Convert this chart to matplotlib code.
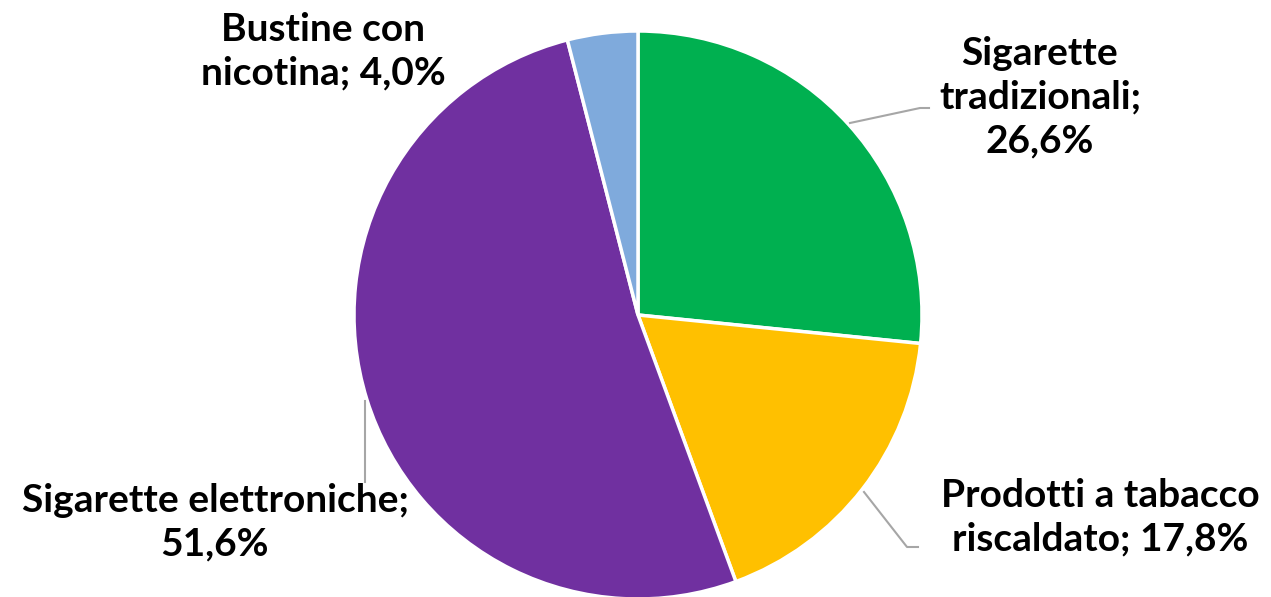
import matplotlib
matplotlib.use('Agg')
import matplotlib.pyplot as plt

# dati del grafico
categorie = ['Sigarette\ntradizionali', 'Prodotti a tabacco\nriscaldato',
             'Sigarette elettroniche', 'Bustine con\nnicotina']
valori = [26.6, 17.8, 51.6, 4.0]
colori = ['#00B050', '#FFC000', '#7030A0', '#7FAADC']

W, H = 1271, 597
fig = plt.figure(figsize=(W / 100, H / 100), dpi=100)
ax = fig.add_axes([0, 0, 1, 1])

cx, cy, r = 638, H - 315, 284
ax.pie(valori, colors=colori, startangle=90, counterclock=False,
       center=(cx, cy), radius=r, frame=True,
       wedgeprops=dict(edgecolor='white', linewidth=2.5))
ax.set_xlim(0, W)
ax.set_ylim(0, H)
ax.set_aspect('equal')
ax.axis('off')

# etichette (posizione in pixel, y dall'alto)
testi = [
    ('Sigarette\ntradizionali;\n26,6%', 1040, 97),
    ('Prodotti a tabacco\nriscaldato; 17,8%', 1100, 517),
    ('Sigarette elettroniche;\n51,6%', 215, 522),
    ('Bustine con\nnicotina; 4,0%', 323, 51),
]
for t, x, y in testi:
    ax.text(x, H - y, t, ha='center', va='center', fontsize=28,
            fontweight='bold', family='Lato', linespacing=1.3, color='black')

# linee guida
linee = [
    ([850, 920, 929], [123, 108, 108]),
    ([864, 907, 918], [492, 547, 547]),
    ([365, 365], [401, 482]),
]
for xs, ys in linee:
    ax.plot(xs, [H - v for v in ys], color='#A6A6A6', linewidth=1.5)

plt.savefig('out.png', dpi=100)
